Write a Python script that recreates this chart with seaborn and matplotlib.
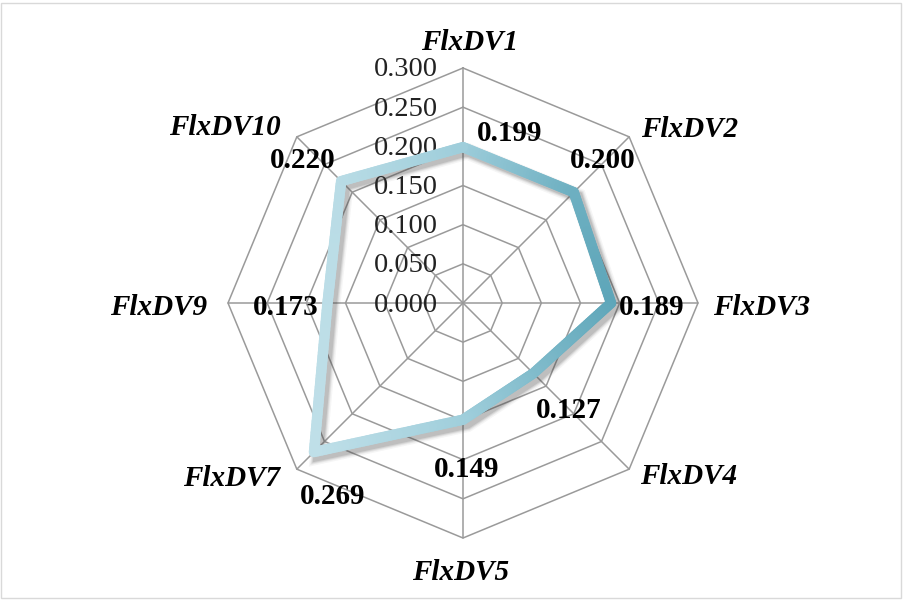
import numpy as np
import pandas as pd
import matplotlib.pyplot as plt
import matplotlib.patheffects as pe
from matplotlib.collections import LineCollection
from matplotlib.colors import LinearSegmentedColormap
from matplotlib.patches import Rectangle
import seaborn as sns

# Datos del radar
categorias = ["FlxDV1", "FlxDV2", "FlxDV3", "FlxDV4", "FlxDV5", "FlxDV7", "FlxDV9", "FlxDV10"]
valores = [0.199, 0.200, 0.189, 0.127, 0.149, 0.269, 0.173, 0.220]
ticks = [0.000, 0.050, 0.100, 0.150, 0.200, 0.250, 0.300]

sns.set_theme(style="white")
plt.rcParams["font.family"] = ["Liberation Serif", "DejaVu Serif"]

n = len(categorias)
ang = np.arange(n) * 2 * np.pi / n
rmax = ticks[-1]

fig = plt.figure(figsize=(9.04, 6.0), dpi=100)
ax = fig.add_axes([0, 0, 1, 1])
escala = 235 / rmax  # pixeles por unidad
ax.set_xlim(-463 / escala, 441 / escala)
ax.set_ylim(-297 / escala, 303 / escala)
ax.axis("off")

gris = "#9a9a9a"
# anillos octogonales
for t in ticks[1:]:
    xs = np.append(t * np.sin(ang), 0)
    ys = np.append(t * np.cos(ang), t)
    ax.plot(xs, ys, color=gris, lw=1.1, zorder=1)
# radios
for a in ang:
    ax.plot([0, rmax * np.sin(a)], [0, rmax * np.cos(a)], color=gris, lw=1.1, zorder=1)

# etiquetas del eje
for t in ticks:
    ax.annotate(f"{t:.3f}", (0, t), xytext=(-25, -2), textcoords="offset pixels",
                ha="right", va="center", fontsize=20.5, color="#222222", zorder=2)

# serie: sombra difuminada
vx = np.array(valores) * np.sin(ang)
vy = np.array(valores) * np.cos(ang)
df = pd.DataFrame({"x": np.append(vx, vx[0]), "y": np.append(vy, vy[0])})
sombras = [pe.SimpleLineShadow(offset=(3, -3), shadow_color="#404040", alpha=a, linewidth=w)
           for w, a in [(12, 0.05), (10, 0.08), (8.5, 0.11), (7, 0.14)]]
sns.lineplot(data=df, x="x", y="y", sort=False, estimator=None, color="#8ec3d1", lw=7.5,
             ax=ax, zorder=3, solid_joinstyle="miter", path_effects=sombras)

# degradado horizontal
pts = []
for i in range(n):
    p0 = np.array([df.x[i], df.y[i]])
    p1 = np.array([df.x[i + 1], df.y[i + 1]])
    for s in np.linspace(0, 1, 40):
        pts.append(p0 + (p1 - p0) * s)
pts = np.array(pts)
segs = np.stack([pts[:-1], pts[1:]], axis=1)
cmap = LinearSegmentedColormap.from_list("grad", ["#bfdfe8", "#9fcedb", "#5ea6b9"])
xm = segs[:, :, 0].mean(axis=1)
norm = plt.Normalize(vx.min(), vx.max())
lc = LineCollection(segs, colors=cmap(norm(xm)), linewidths=7.5, capstyle="round", zorder=4)
ax.add_collection(lc)

# etiquetas de valores
off_val = [(47, 14), (29, 32), (41, -4), (35, -37), (4, -50), (19, -45), (-42, -4), (-38, 21)]
for i in range(n):
    ax.annotate(f"{valores[i]:.3f}", (vx[i], vy[i]), xytext=off_val[i], textcoords="offset pixels",
                ha="center", va="center", fontsize=21, fontweight="bold", color="black", zorder=5)

# etiquetas de categorias
off_cat = [(7, 26, "center"), (12, 7, "left"), (15, -4, "left"), (11, -7, "left"),
           (-2, -34, "center"), (-17, -9, "right"), (-21, -4, "right"), (-16, 9, "right")]
for i in range(n):
    dx, dy, ha = off_cat[i]
    ax.annotate(categorias[i], (rmax * np.sin(ang[i]), rmax * np.cos(ang[i])), xytext=(dx, dy),
                textcoords="offset pixels", ha=ha, va="center", fontsize=21,
                fontweight="bold", fontstyle="italic", color="black", zorder=5)

# borde del grafico
fig.patches.append(Rectangle((1.5 / 904, 2.5 / 600), 900 / 904, 595 / 600, transform=fig.transFigure,
                             fill=False, edgecolor="#d9d9d9", lw=1.0))

plt.savefig("out.png", dpi=100)
